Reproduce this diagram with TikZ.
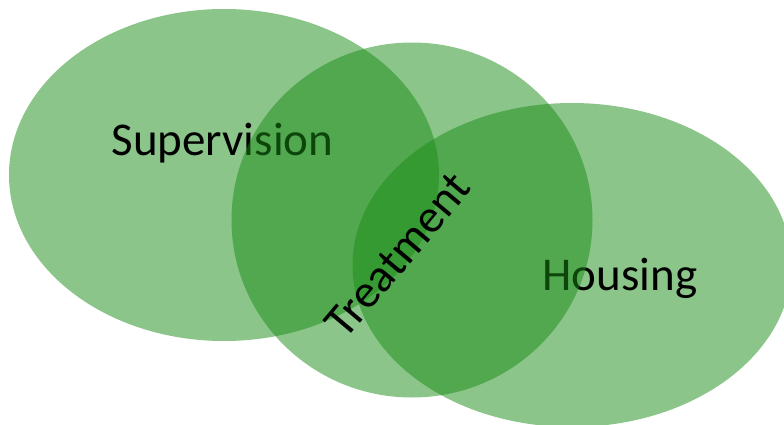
\documentclass[tikz,border=0pt]{standalone}
\usepackage{fontspec}
\setmainfont{Carlito}
\definecolor{vgreen}{RGB}{25,141,21}
\tikzset{
  blob/.style={fill=vgreen, fill opacity=0.5, draw=none},
  lbl/.style={font=\fontsize{47}{56}\selectfont, text=black, inner sep=0pt, anchor=base}
}
\begin{document}
\begin{tikzpicture}[x=1pt,y=-1pt]
\useasboundingbox (0,0) rectangle (784,425);
\clip (0,0) rectangle (784,425);
\fill[white] (0,0) rectangle (784,425);
\path[blob] (224,175) ellipse [x radius=215, y radius=166];
\node[lbl] (sup) at (222.5,155) {Supervision};
\path[blob] (572,265) ellipse [x radius=219.5, y radius=162];
\node[lbl] (hou) at (620,290) {Housing};
\path[blob] (412,220) ellipse [x radius=180.5, y radius=177.5];
\node[lbl, anchor=center, rotate=50] (tre) at (398,255) {Treatment};
\end{tikzpicture}
\end{document}
